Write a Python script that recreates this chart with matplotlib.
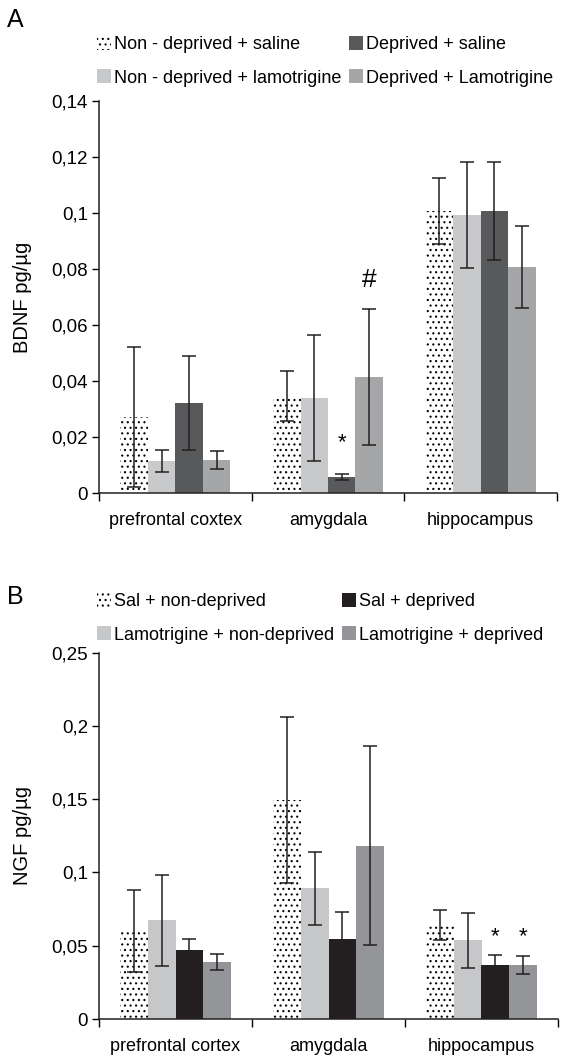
import matplotlib.pyplot as plt
from matplotlib.ticker import FuncFormatter

plt.rcParams['font.family'] = ['Liberation Sans', 'DejaVu Sans']
plt.rcParams['hatch.color'] = 'black'
plt.rcParams['hatch.linewidth'] = 0.8

# Panel A - BDNF
regions_a = ["prefrontal coxtex", "amygdala", "hippocampus"]
labels_a = ["Non - deprived + saline", "Non - deprived + lamotrigine",
            "Deprived + saline", "Deprived + Lamotrigine"]
bdnf_nd_sal = [0.027, 0.0346, 0.1007]
bdnf_nd_lam = [0.0115, 0.034, 0.0993]
bdnf_d_sal = [0.0321, 0.0057, 0.1007]
bdnf_d_lam = [0.0118, 0.0414, 0.0807]
bdnf_nd_sal_err = [0.025, 0.009, 0.0118]
bdnf_nd_lam_err = [0.0039, 0.0226, 0.019]
bdnf_d_sal_err = [0.0167, 0.0012, 0.0175]
bdnf_d_lam_err = [0.0033, 0.0244, 0.0147]
colors_a = ["white", "#c8c9cb", "#58595b", "#a5a6a8"]

# Panel B - NGF
regions_b = ["prefrontal cortex", "amygdala", "hippocampus"]
labels_b = ["Sal + non-deprived", "Lamotrigine + non-deprived",
            "Sal + deprived", "Lamotrigine + deprived"]
ngf_sal_nd = [0.0599, 0.1497, 0.0639]
ngf_lam_nd = [0.0673, 0.0891, 0.0537]
ngf_sal_d = [0.0469, 0.0544, 0.0367]
ngf_lam_d = [0.0388, 0.1184, 0.0367]
ngf_sal_nd_err = [0.028, 0.0566, 0.0102]
ngf_lam_nd_err = [0.031, 0.0248, 0.0188]
ngf_sal_d_err = [0.0075, 0.0184, 0.007]
ngf_lam_d_err = [0.0053, 0.068, 0.006]
colors_b = ["white", "#c6c7c9", "#231f20", "#939598"]

W, H = 576, 1057
fig = plt.figure(figsize=(W / 100, H / 100), dpi=100)


def fmt(v, pos):
    return f"{v:g}".replace(".", ",")


def draw_panel(ax, regions, means, errs, colors, ymax, yticks, ylabel):
    w = 0.18
    for i, (m, e, c) in enumerate(zip(means, errs, colors)):
        xs = [k + (i - 1.5) * w for k in range(len(regions))]
        ax.bar(xs, m, width=w, color=c, linewidth=0,
               hatch="..." if i == 0 else None, zorder=2)
        ax.errorbar(xs, m, yerr=e, fmt="none", ecolor="#231f20",
                    elinewidth=1.1, capsize=5, capthick=1.1, zorder=3)
    ax.set_xlim(-0.5, len(regions) - 0.5)
    ax.set_ylim(0, ymax)
    ax.set_yticks(yticks)
    ax.yaxis.set_major_formatter(FuncFormatter(fmt))
    ax.set_xticks([k - 0.5 for k in range(len(regions) + 1)])
    ax.set_xticklabels([])
    ax.set_xticks(range(len(regions)), minor=True)
    ax.set_xticklabels(regions, minor=True)
    ax.tick_params(axis="x", which="minor", length=0, pad=14, labelsize=13)
    ax.tick_params(axis="x", which="major", length=6, direction="out", width=1)
    ax.tick_params(axis="y", length=5, direction="out", width=1, labelsize=13.5, pad=3)
    ax.spines["top"].set_visible(False)
    ax.spines["right"].set_visible(False)
    for s in ("left", "bottom"):
        ax.spines[s].set_linewidth(1.1)
        ax.spines[s].set_color("#231f20")
    ax.set_ylabel(ylabel, fontsize=14.5, labelpad=14)


# Panel A
ax_a = fig.add_axes([99 / W, 1 - 493 / H, 458 / W, 392 / H])
draw_panel(ax_a, regions_a,
           [bdnf_nd_sal, bdnf_nd_lam, bdnf_d_sal, bdnf_d_lam],
           [bdnf_nd_sal_err, bdnf_nd_lam_err, bdnf_d_sal_err, bdnf_d_lam_err],
           colors_a, 0.14, [0, 0.02, 0.04, 0.06, 0.08, 0.1, 0.12, 0.14],
           "BDNF pg/µg")
ax_a.text(1 + 0.5 * 0.18, 0.018, "*", ha="center", va="center", fontsize=16)
ax_a.text(1 + 1.5 * 0.18, 0.076, "#", ha="center", va="center", fontsize=19)

# Panel B
ax_b = fig.add_axes([99 / W, 1 - 1019 / H, 459 / W, 366.3 / H])
draw_panel(ax_b, regions_b,
           [ngf_sal_nd, ngf_lam_nd, ngf_sal_d, ngf_lam_d],
           [ngf_sal_nd_err, ngf_lam_nd_err, ngf_sal_d_err, ngf_lam_d_err],
           colors_b, 0.25, [0, 0.05, 0.1, 0.15, 0.2, 0.25],
           "NGF pg/µg")
ax_b.text(2 + 0.5 * 0.18, 0.0565, "*", ha="center", va="center", fontsize=16)
ax_b.text(2 + 1.5 * 0.18, 0.0565, "*", ha="center", va="center", fontsize=16)

# legends
for ax, labels, top in ((ax_a, labels_a, 36), (ax_b, labels_b, 593)):
    handles = ax.containers[::2]
    fig.legend([h.patches[0] for h in handles], labels, ncol=2,
               loc="upper left", bbox_to_anchor=(97 / W, 1 - top / H),
               frameon=False, fontsize=13, handlelength=0.8, handleheight=0.8,
               handletextpad=0.15, columnspacing=0.4, labelspacing=0.9,
               borderpad=0, borderaxespad=0)

fig.text(7 / W, 1 - 20 / H, "A", fontsize=18, va="center", ha="left")
fig.text(7 / W, 1 - 597 / H, "B", fontsize=18, va="center", ha="left")

fig.savefig("out.png", dpi=100)
